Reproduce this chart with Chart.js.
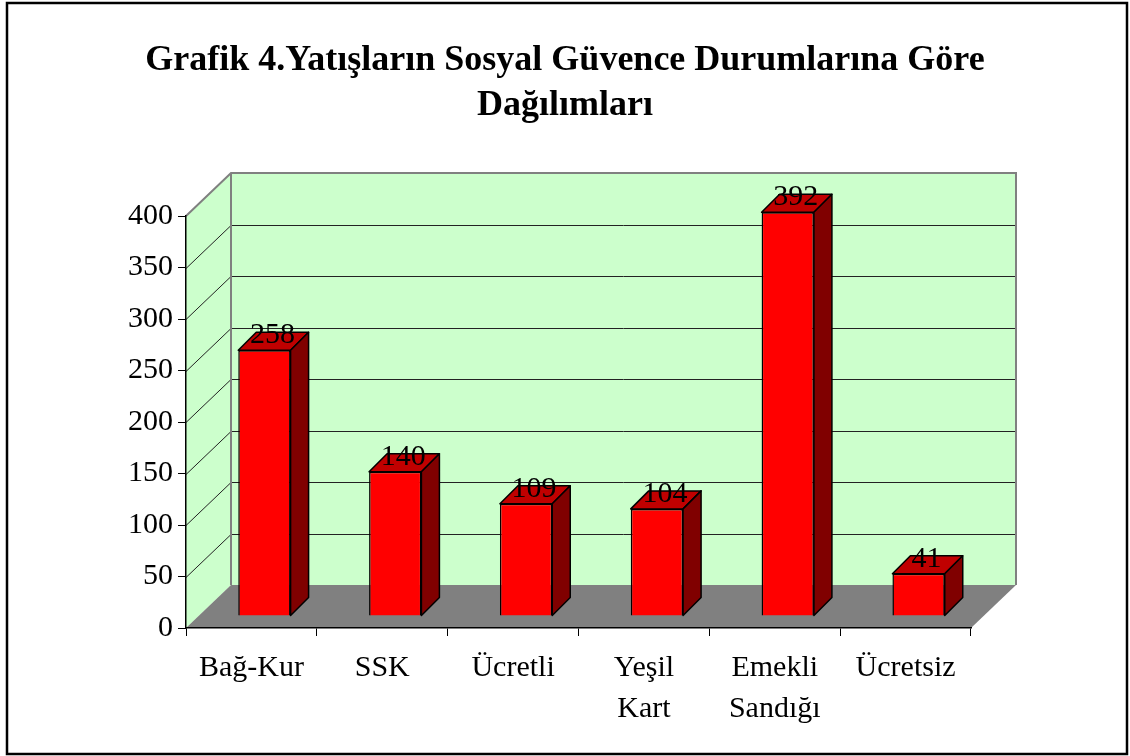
<!DOCTYPE html>
<html>
<head>
<meta charset="utf-8">
<script src="https://cdn.jsdelivr.net/npm/chart.js@4.4.0/dist/chart.umd.min.js"></script>
<style>
  body { margin: 0; background: #fff; }
</style>
</head>
<body>
<canvas id="chart" width="1130" height="756"></canvas>
<script>
// chart data
const categories = [['Bağ-Kur'], ['SSK'], ['Ücretli'], ['Yeşil', 'Kart'], ['Emekli', 'Sandığı'], ['Ücretsiz']];
const values = [258, 140, 109, 104, 392, 41];
const yMin = 0;
const yMax = 400;
const yStep = 50;

const titleLines = ['Grafik 4.Yatışların Sosyal Güvence Durumlarına Göre', 'Dağılımları'];

const FONT = "'Liberation Serif', 'Times New Roman', serif";
const DEPTH = { x: 45, y: -43 };      // front plane -> back wall
const BAR_SHIFT = { x: 13, y: -12 };  // front plane -> bar front face
const BAR_DEPTH = { x: 18, y: -18 };

// walls, floor and gridlines of the 3D box
const box3d = {
    id: 'box3d',
    beforeDraw(chart) {
        const ctx = chart.ctx;
        const area = chart.chartArea;
        const yScale = chart.scales.y;
        ctx.save();
        ctx.fillStyle = '#fff';
        ctx.fillRect(0, 0, chart.width, chart.height);

        const L = area.left, R = area.right, T = area.top, B = area.bottom;
        const dx = DEPTH.x, dy = DEPTH.y;

        // back wall
        ctx.fillStyle = '#ccffcc';
        ctx.fillRect(L + dx, T + dy, R - L, B - T);
        // left wall
        ctx.beginPath();
        ctx.moveTo(L, B);
        ctx.lineTo(L, T);
        ctx.lineTo(L + dx, T + dy);
        ctx.lineTo(L + dx, B + dy);
        ctx.closePath();
        ctx.fill();

        // gridlines
        ctx.strokeStyle = '#222';
        ctx.lineWidth = 1;
        for (let v = yMin + yStep; v < yMax; v += yStep) {
            const py = Math.round(yScale.getPixelForValue(v)) + 0.5;
            ctx.beginPath();
            ctx.moveTo(L, py);
            ctx.lineTo(L + dx, py + dy);
            ctx.lineTo(R + dx, py + dy);
            ctx.stroke();
        }

        // floor
        ctx.fillStyle = '#808080';
        ctx.beginPath();
        ctx.moveTo(L, B);
        ctx.lineTo(R, B);
        ctx.lineTo(R + dx, B + dy);
        ctx.lineTo(L + dx, B + dy);
        ctx.closePath();
        ctx.fill();

        // wall edges
        ctx.strokeStyle = '#808080';
        ctx.lineWidth = 2;
        ctx.beginPath();
        ctx.moveTo(L, T);
        ctx.lineTo(L + dx, T + dy);
        ctx.lineTo(R + dx, T + dy);
        ctx.lineTo(R + dx, B + dy);
        ctx.moveTo(L + dx, T + dy);
        ctx.lineTo(L + dx, B + dy);
        ctx.stroke();

        // outer frame
        ctx.strokeStyle = '#000';
        ctx.lineWidth = 2.5;
        ctx.strokeRect(7, 3, 1120, 751);
        ctx.restore();
    },
    beforeDatasetsDraw(chart) {
        chart.ctx.save();
        chart.ctx.translate(BAR_SHIFT.x, BAR_SHIFT.y);
    },
    afterDatasetsDraw(chart) {
        const ctx = chart.ctx;
        ctx.restore();
        const meta = chart.getDatasetMeta(0);
        ctx.save();
        ctx.lineWidth = 1.5;
        ctx.strokeStyle = '#000';
        ctx.lineJoin = 'round';
        meta.data.forEach((bar, i) => {
            const p = bar.getProps(['x', 'y', 'base', 'width'], true);
            const l = p.x - p.width / 2 + BAR_SHIFT.x;
            const r = p.x + p.width / 2 + BAR_SHIFT.x;
            const t = p.y + BAR_SHIFT.y;
            const b = p.base + BAR_SHIFT.y;
            const ddx = BAR_DEPTH.x, ddy = BAR_DEPTH.y;
            // top face
            ctx.fillStyle = '#c00000';
            ctx.beginPath();
            ctx.moveTo(l, t);
            ctx.lineTo(r, t);
            ctx.lineTo(r + ddx, t + ddy);
            ctx.lineTo(l + ddx, t + ddy);
            ctx.closePath();
            ctx.fill();
            ctx.stroke();
            // side face
            ctx.fillStyle = '#800000';
            ctx.beginPath();
            ctx.moveTo(r, t);
            ctx.lineTo(r + ddx, t + ddy);
            ctx.lineTo(r + ddx, b + ddy);
            ctx.lineTo(r, b);
            ctx.closePath();
            ctx.fill();
            ctx.stroke();
            // value label
            ctx.fillStyle = '#000';
            ctx.font = '30px ' + FONT;
            ctx.textAlign = 'center';
            ctx.textBaseline = 'middle';
            ctx.fillText(String(values[i]), (l + r) / 2 + 8, t - 15);
        });
        ctx.restore();
    }
};

new Chart(document.getElementById('chart'), {
    type: 'bar',
    data: {
        labels: categories,
        datasets: [{
            data: values,
            backgroundColor: '#ff0000',
            borderColor: '#000',
            borderWidth: 1.5,
            barPercentage: 0.4,
            categoryPercentage: 1,
            clip: false
        }]
    },
    options: {
        responsive: false,
        animation: false,
        layout: { padding: 0 },
        plugins: {
            legend: { display: false },
            tooltip: { enabled: false },
            title: {
                display: true,
                text: titleLines,
                color: '#000',
                font: { family: FONT, size: 36, weight: 'bold', lineHeight: 45 / 36 },
                padding: { top: 38, bottom: 88 }
            }
        },
        scales: {
            x: {
                grid: { drawOnChartArea: false, drawTicks: true, tickLength: 8, color: '#000', offset: true },
                border: { display: true, color: '#000', width: 1.5 },
                ticks: { color: '#000', padding: 12, maxRotation: 0, autoSkip: false,
                         font: { family: FONT, size: 30, lineHeight: 41 / 30 } },
                afterFit(scale) { scale.height = 128; }
            },
            y: {
                min: yMin,
                max: yMax,
                grid: { drawOnChartArea: false, drawTicks: true, tickLength: 8, color: '#000' },
                border: { display: true, color: '#000', width: 1.5 },
                ticks: { stepSize: yStep, color: '#000', padding: 5,
                         font: { family: FONT, size: 30 } },
                afterFit(scale) { scale.width = 186; }
            },
            // empty right-hand space so the plot ends where the reference does
            spacer: {
                type: 'linear',
                position: 'right',
                display: true,
                grid: { display: false, drawTicks: false },
                border: { display: false },
                ticks: { display: false },
                afterFit(scale) { scale.width = 159; }
            }
        }
    },
    plugins: [box3d]
});
</script>
</body>
</html>
